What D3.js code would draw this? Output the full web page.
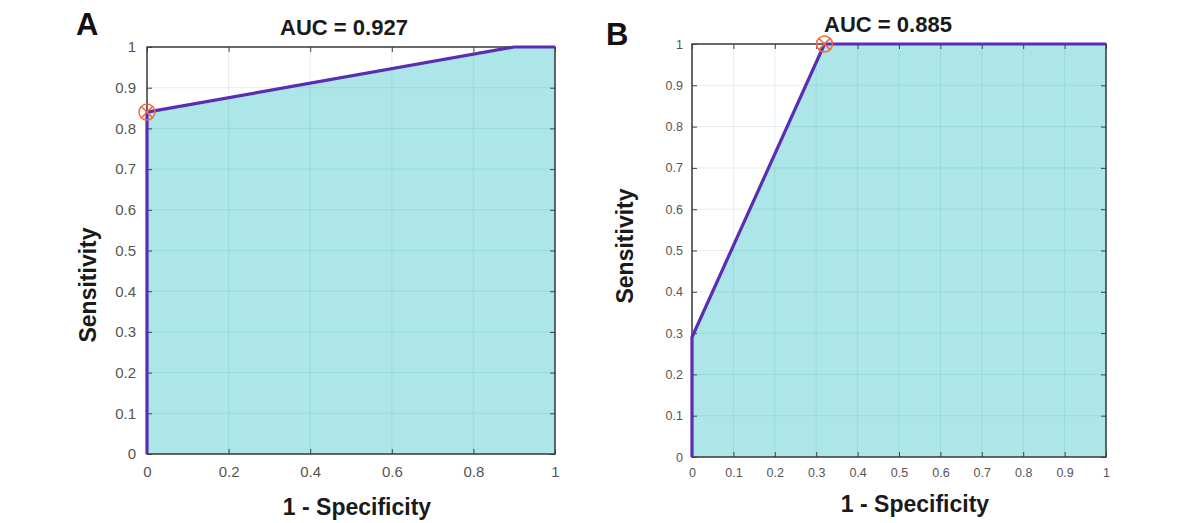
<!DOCTYPE html>
<html>
<head>
<meta charset="utf-8">
<script src="https://cdn.jsdelivr.net/npm/d3@7"></script>
<style>
  html, body { margin: 0; padding: 0; background: #fff; }
  svg { display: block; font-family: "Liberation Sans", Arial, Helvetica, sans-serif; }
</style>
</head>
<body>
<svg id="chart" width="1191" height="523"></svg>
<script>
// ROC curve A
const fprA = [0, 0, 0.9, 1];
const tprA = [0, 0.84, 1, 1];
const optA = [0, 0.84];
const aucA = "AUC = 0.927";
const xTicksA = [0, 0.2, 0.4, 0.6, 0.8, 1];

// ROC curve B
const fprB = [0, 0, 0.32, 1];
const tprB = [0, 0.29, 1, 1];
const optB = [0.32, 1];
const aucB = "AUC = 0.885";
const xTicksB = [0, 0.1, 0.2, 0.3, 0.4, 0.5, 0.6, 0.7, 0.8, 0.9, 1];

const yTicks = [0, 0.1, 0.2, 0.3, 0.4, 0.5, 0.6, 0.7, 0.8, 0.9, 1];

const FILL = "#ade6e8";
const LINE = "#5a2db2";
const MARK = "#f2683a";

const svg = d3.select("#chart");

function drawPanel(p) {
  const x = d3.scaleLinear().domain([0, 1]).range([p.x0, p.x1]);
  const y = d3.scaleLinear().domain([0, 1]).range([p.y0, p.y1]);
  const g = svg.append("g");
  const pts = p.fpr.map((f, i) => [f, p.tpr[i]]);

  // white plot bg
  g.append("rect")
    .attr("x", p.x0).attr("y", p.y1)
    .attr("width", p.x1 - p.x0).attr("height", p.y0 - p.y1)
    .attr("fill", "#fff");

  // area under curve
  g.append("path")
    .datum(pts)
    .attr("fill", FILL)
    .attr("d", d3.area().x(d => x(d[0])).y0(y(0)).y1(d => y(d[1])));

  // grid
  const grid = g.append("g").attr("stroke", "#2a7a7a").attr("stroke-opacity", 0.12).attr("stroke-width", 1);
  p.xTicks.forEach(t => {
    grid.append("line").attr("x1", x(t)).attr("x2", x(t)).attr("y1", y(0)).attr("y2", y(1));
  });
  yTicks.forEach(t => {
    grid.append("line").attr("x1", x(0)).attr("x2", x(1)).attr("y1", y(t)).attr("y2", y(t));
  });

  // axes (ticks inward, box)
  const tickStyle = sel => {
    sel.select(".domain").remove();
    sel.selectAll("line").attr("stroke", "#444");
    sel.selectAll("text").attr("fill", "#555").style("font-size", p.tickSize + "px");
  };
  g.append("g").attr("transform", `translate(0,${p.y0})`)
    .call(d3.axisBottom(x).tickValues(p.xTicks).tickFormat(d => String(d)).tickSizeInner(-5).tickPadding(p.xPad))
    .call(tickStyle);
  g.append("g").attr("transform", `translate(0,${p.y1})`)
    .call(d3.axisTop(x).tickValues(p.xTicks).tickFormat("").tickSizeInner(-5))
    .call(tickStyle);
  g.append("g").attr("transform", `translate(${p.x0},0)`)
    .call(d3.axisLeft(y).tickValues(yTicks).tickFormat(d => String(d)).tickSizeInner(-5).tickPadding(p.yPad))
    .call(tickStyle);
  g.append("g").attr("transform", `translate(${p.x1},0)`)
    .call(d3.axisRight(y).tickValues(yTicks).tickFormat("").tickSizeInner(-5))
    .call(tickStyle);

  g.append("rect")
    .attr("x", p.x0).attr("y", p.y1)
    .attr("width", p.x1 - p.x0).attr("height", p.y0 - p.y1)
    .attr("fill", "none").attr("stroke", "#3a3a3a").attr("stroke-width", 1.5);

  // ROC line
  g.append("path")
    .datum(pts)
    .attr("fill", "none")
    .attr("stroke", LINE)
    .attr("stroke-width", 3.2)
    .attr("stroke-linejoin", "round")
    .attr("d", d3.line().x(d => x(d[0])).y(d => y(d[1])));

  // optimal cut-off marker
  const mx = x(p.opt[0]), my = y(p.opt[1]), r = 8;
  const m = g.append("g").attr("stroke", MARK).attr("stroke-width", 1.5).attr("fill", "none");
  m.append("circle").attr("cx", mx).attr("cy", my).attr("r", r);
  m.append("line").attr("x1", mx - r * 0.7).attr("y1", my - r * 0.7).attr("x2", mx + r * 0.7).attr("y2", my + r * 0.7);
  m.append("line").attr("x1", mx - r * 0.7).attr("y1", my + r * 0.7).attr("x2", mx + r * 0.7).attr("y2", my - r * 0.7);

  // titles / labels
  svg.append("text")
    .attr("x", p.titleX).attr("y", p.titleY)
    .attr("text-anchor", "middle")
    .attr("font-weight", "bold").attr("font-size", 22).attr("fill", "#1a1a1a")
    .text(p.title);
  svg.append("text")
    .attr("x", p.xlabX).attr("y", p.xlabY)
    .attr("text-anchor", "middle")
    .attr("font-weight", "bold").attr("font-size", 23).attr("fill", "#1a1a1a")
    .text("1 - Specificity");
  svg.append("text")
    .attr("transform", `translate(${p.ylabX},${p.ylabY}) rotate(-90)`)
    .attr("text-anchor", "middle")
    .attr("font-weight", "bold").attr("font-size", 23).attr("fill", "#1a1a1a")
    .text("Sensitivity");
  svg.append("text")
    .attr("x", p.letterX).attr("y", p.letterY)
    .attr("font-weight", "bold").attr("font-size", 31).attr("fill", "#111")
    .text(p.letter);
}

drawPanel({
  fpr: fprA, tpr: tprA, opt: optA, xTicks: xTicksA, title: aucA, letter: "A",
  x0: 147, x1: 555, y0: 454, y1: 47,
  tickSize: 15, xPad: 12, yPad: 11,
  titleX: 344, titleY: 35, xlabX: 357, xlabY: 515, ylabX: 96, ylabY: 285,
  letterX: 76, letterY: 35
});

drawPanel({
  fpr: fprB, tpr: tprB, opt: optB, xTicks: xTicksB, title: aucB, letter: "B",
  x0: 692, x1: 1106, y0: 457, y1: 44,
  tickSize: 12.5, xPad: 11, yPad: 9,
  titleX: 888, titleY: 32, xlabX: 915, xlabY: 512, ylabX: 633, ylabY: 246,
  letterX: 606, letterY: 45
});
</script>
</body>
</html>
